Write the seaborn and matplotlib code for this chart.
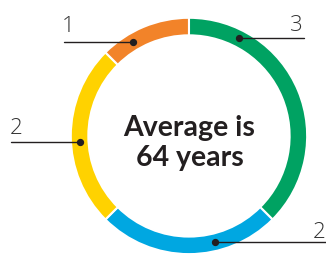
# Donut : répartition avec moyenne au centre
import matplotlib.pyplot as plt
import seaborn as sns
import numpy as np

# Données (sens horaire depuis le haut)
values = [3, 2, 2, 1]
labels = ["3", "2", "2", "1"]
colors = ["#00A262", "#00A7E1", "#FFD200", "#F28329"]
center_text = "Average is\n64 years"

# Position des étiquettes : angle du point sur l'anneau, fin de ligne, texte
label_angles = [27, 166, 267, 329]
line_ends = [0.98, 1.17, -1.52, -1.07]
text_pos = [(0.915, 0.897), (1.11, -0.872), (-1.48, 0.017), (-1.034, 0.889)]

sns.set_style("white")
plt.rcParams["font.family"] = ["Open Sans", "DejaVu Sans"]

fig = plt.figure(figsize=(3.26, 2.54), dpi=100)
ax = fig.add_axes([0, 0, 1, 1])

radius = 1.01
ring = 0.15
ax.pie(values, colors=colors, startangle=90, counterclock=False, radius=radius,
       wedgeprops=dict(width=ring, edgecolor="white", linewidth=1.5))

# Lignes d'annotation avec points
r_mid = radius - ring / 2
for ang, xe, (tx, ty), lab in zip(label_angles, line_ends, text_pos, labels):
    a = np.deg2rad(ang)
    x0, y0 = r_mid * np.sin(a), r_mid * np.cos(a)
    ax.plot([x0, xe], [y0, y0], color="#231f20", lw=1)
    ax.scatter([x0], [y0], s=18, color="#231f20", zorder=5)
    ax.text(tx, ty, lab, ha="center", va="baseline", fontsize=16,
            fontweight="light", color="#333333")

ax.text(0.005, -0.256, center_text, ha="center", va="baseline",
        fontsize=20.5, fontweight="bold", color="#231f20", linespacing=1.17,
        family=["Lato", "DejaVu Sans"])

ax.set_xlim(-1.615, 1.171)
ax.set_ylim(-1.009, 1.162)
ax.set_aspect("auto")
ax.axis("off")

plt.savefig("out.png", dpi=100)
